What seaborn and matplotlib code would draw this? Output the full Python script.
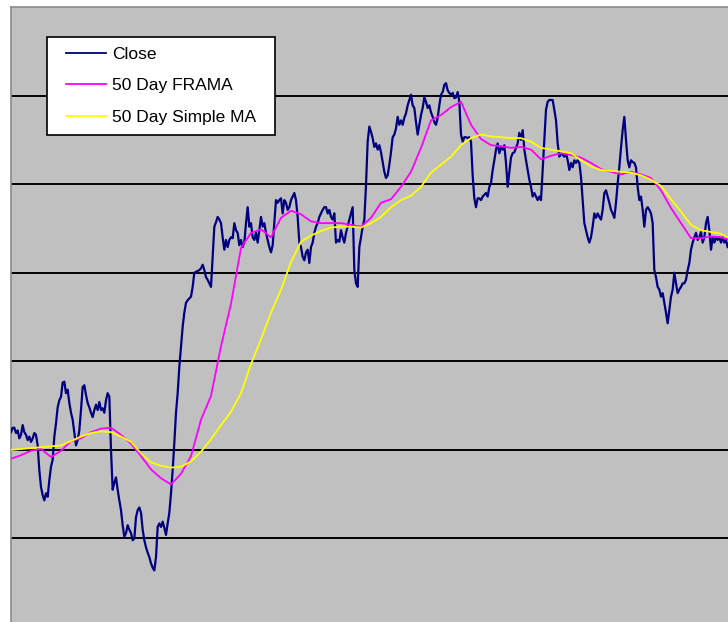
import numpy as np
import pandas as pd
import matplotlib
matplotlib.use("Agg")
import matplotlib.pyplot as plt
from matplotlib.lines import Line2D
from matplotlib.legend_handler import HandlerLine2D
import seaborn as sns

# Daily closing prices (one value per trading day)
close = [
    22.0, 22.5, 22.5, 21.9, 22.2, 21.3, 21.7, 22.8, 22.0, 21.7, 21.1, 21.5, 20.9, 21.3, 21.9, 21.7,
    20.5, 17.7, 15.8, 14.9, 14.3, 15.1, 14.7, 16.6, 18.1, 18.9, 21.5, 23.0, 24.8, 25.6, 26.0, 27.6,
    27.7, 26.4, 26.8, 25.3, 24.2, 23.4, 21.9, 20.5, 21.1, 22.2, 24.5, 27.1, 27.3, 26.2, 25.3, 24.8,
    24.2, 23.7, 24.5, 25.1, 24.5, 25.4, 24.5, 24.7, 24.2, 25.6, 26.4, 26.0, 20.0, 15.5, 16.3, 16.9,
    15.5, 14.3, 13.2, 11.5,
    10.2, 10.6, 11.5, 11.0, 10.6, 9.8, 10.0, 12.4, 13.2, 13.5, 12.9, 11.0, 9.8, 9.0, 8.4, 7.9,
    7.2, 6.7, 6.4, 7.9, 11.3, 11.7, 11.3, 11.9, 11.2, 10.4, 11.7, 12.9, 15.1, 17.7, 20.8, 24.2,
    26.4, 29.4, 31.6, 33.9, 35.5, 36.6, 36.9, 37.1, 37.3, 38.4, 40.0, 40.1, 40.2, 40.3, 40.5, 40.9,
    40.3, 39.5, 39.2, 38.8, 38.4, 41.8, 45.2, 45.7, 46.3, 46.0, 45.6, 44.0, 42.6, 43.7, 42.9, 43.7,
    44.0, 43.9, 45.6, 44.8, 44.5, 43.1, 43.7, 42.9, 43.4,
    45.6, 47.4, 45.2, 45.6, 44.0, 43.7, 44.5, 43.4, 44.8, 46.3, 45.2, 45.6, 44.5, 43.7, 42.9, 42.3,
    43.1, 45.6, 48.2, 47.9, 48.2, 48.4, 46.7, 48.2, 47.9, 47.1, 47.4, 48.2, 48.6, 49.0, 48.2, 46.3,
    43.4, 42.9, 41.8, 41.4, 42.3, 42.6, 41.1, 42.9, 43.4, 44.5, 45.2, 45.6, 46.3, 46.7, 47.1, 47.4,
    47.4, 46.7, 47.1, 46.3, 46.0, 46.7, 43.4, 43.7, 43.5, 44.8, 44.0, 43.4, 44.5, 45.2, 46.0, 46.7,
    47.4, 40.3, 38.8, 38.4, 42.9, 44.0, 45.2, 46.0,
    49.9, 54.8, 56.5, 55.9, 55.2, 54.2, 54.6, 53.9, 54.4, 53.6, 52.5, 51.4, 50.7, 51.0, 52.2, 53.6,
    55.3, 55.6, 56.3, 57.6, 56.7, 57.2, 56.7, 57.5, 58.0, 58.9, 59.5, 60.1, 58.9, 58.6, 57.0, 55.6,
    56.7, 57.8, 58.6, 59.8, 59.3, 58.6, 58.9, 58.1, 57.6, 57.0, 56.7, 57.5, 58.9, 60.1, 60.4, 61.2,
    61.4, 60.6, 60.3, 60.1, 60.3, 59.7, 59.8, 60.4, 59.3, 55.6, 54.8, 55.3, 55.3, 55.2, 55.3, 54.8,
    51.0, 48.4, 47.4, 48.4, 48.4, 48.2, 48.6, 48.8,
    49.0, 48.6, 49.7, 50.1, 51.6, 52.7, 53.9, 54.6, 53.5, 54.1, 53.9, 54.4, 52.4, 49.7, 51.3, 53.0,
    53.5, 53.6, 54.1, 54.6, 55.8, 55.0, 56.1, 53.9, 52.7, 51.6, 50.5, 49.7, 48.6, 49.0, 48.6, 48.2,
    48.6, 48.2, 51.6, 55.0, 58.4, 59.3, 59.5, 59.5, 59.5, 58.4, 57.2, 54.6, 53.1, 53.5, 53.3, 53.1,
    53.5, 52.7, 51.6, 52.4, 51.9, 52.7, 52.4, 52.7, 52.4, 50.8, 48.2, 45.6, 44.8, 44.0, 43.4, 44.0,
    45.2, 46.7, 46.2, 46.7, 46.3, 46.0, 47.1, 49.0,
    49.3, 48.6, 47.9, 47.1, 46.7, 46.2, 47.9, 50.1, 51.9, 54.1, 56.1, 57.6, 55.0, 52.7, 51.9, 52.7,
    52.5, 52.4, 51.9, 49.7, 48.2, 48.6, 47.1, 45.2, 47.1, 47.4, 47.1, 46.7, 45.6, 40.3, 39.5, 38.4,
    38.1, 37.3, 37.7, 36.6, 35.5, 34.3, 35.8, 37.3, 38.1, 40.0, 38.8, 37.7, 38.1, 38.4, 38.8, 38.8,
    39.2, 40.3, 41.1, 42.6, 43.4, 44.0, 44.5, 43.7, 44.0, 44.6, 43.4, 44.0, 45.6, 46.3, 44.8, 42.6,
    44.0, 43.4, 44.0, 43.7, 44.0, 43.4, 44.0, 43.4, 43.7, 42.9,
]
days = list(range(len(close)))

# Moving averages, read every sixth trading day
ma_days = list(range(0, 432, 6)) + [430]
frama_50 = [
    19.0, 19.4, 19.9, 20.1, 19.2, 19.9, 21.0, 21.3, 22.0, 22.4, 22.5, 21.7, 20.7, 19.3, 17.8, 16.8,
    16.1, 17.3, 19.3, 23.4, 26.1, 31.7, 36.5, 42.8, 44.5, 44.9, 44.0, 46.2, 47.0, 46.6, 45.8, 45.6,
    45.6, 45.6, 45.4, 45.2, 46.2, 47.9, 48.3, 49.7, 51.4, 54.1, 57.2, 57.8, 58.7, 59.3, 56.7, 55.1,
    54.4, 54.3, 54.1, 54.2, 53.9, 52.8, 53.2, 53.5, 53.3, 53.0, 52.4, 51.7, 51.4, 51.1, 51.4, 51.1,
    50.7, 49.3, 47.3, 45.6, 43.9, 43.9, 44.1, 44.0, 43.8,
]
sma_50 = [
    20.0, 20.1, 20.2, 20.3, 20.4, 20.5, 21.0, 21.5, 21.9, 22.1, 22.0, 21.5, 20.9, 19.6, 18.6, 18.2,
    18.0, 18.1, 18.7, 19.8, 21.2, 22.8, 24.3, 26.4, 29.7, 32.5, 35.5, 38.1, 41.2, 43.5, 44.2, 44.7,
    45.1, 45.2, 45.2, 45.1, 45.6, 46.3, 47.4, 48.2, 48.7, 49.7, 51.3, 52.2, 53.1, 54.4, 55.2, 55.6,
    55.4, 55.3, 55.2, 55.2, 54.8, 54.1, 53.9, 53.7, 53.5, 52.7, 52.0, 51.6, 51.5, 51.4, 51.3, 51.0,
    50.5, 49.8, 48.3, 46.9, 45.4, 44.8, 44.6, 44.4, 44.0,
]
grid_levels = [10, 20, 30, 40, 50, 60]

W, H = 728, 622
fig = plt.figure(figsize=(W / 100, H / 100), dpi=100, facecolor="white")
ax = fig.add_axes([11 / W, 0, 1 - 11 / W, 1 - 7 / H])
ax.set_facecolor("#C0C0C0")

price = pd.DataFrame({"day": days, "close": close})
ma = pd.DataFrame({"day": ma_days, "frama": frama_50, "sma": sma_50})

sns.lineplot(data=price, x="day", y="close", ax=ax, color="#000080", lw=1.6,
             label="Close", zorder=3)
sns.lineplot(data=ma, x="day", y="frama", ax=ax, color="#FF00FF", lw=1.3,
             label="50 Day FRAMA", zorder=4)
sns.lineplot(data=ma, x="day", y="sma", ax=ax, color="#FFFF00", lw=1.3,
             label="50 Day Simple MA", zorder=5)

ax.set_xlim(0, 430.2)
ax.set_ylim(0.57, 70.0)
ax.set_yticks(grid_levels)
ax.set_xticks([])
ax.grid(axis="y", color="black", lw=1.4)
ax.set_axisbelow(True)
ax.tick_params(length=0, labelleft=False, labelbottom=False)
ax.set_xlabel("")
ax.set_ylabel("")
for side in ("right", "bottom"):
    ax.spines[side].set_visible(False)
for side in ("left", "top"):
    ax.spines[side].set_color("#8C8C8C")
    ax.spines[side].set_linewidth(1.2)

# Legend box: fixed width, placed in the upper left of the plot area
fs = 12.5
leg = ax.legend(
    loc="upper left",
    bbox_to_anchor=(47 / W, 1 - 135 / H, 228 / W, 98 / H),
    bbox_transform=fig.transFigure,
    mode="expand",
    borderaxespad=0,
    prop={"family": "Liberation Sans", "size": fs},
    frameon=True,
    fancybox=False,
    framealpha=1,
    edgecolor="black",
    facecolor="white",
    borderpad=0.57,
    labelspacing=0.93,
    handlelength=2.85,
    handletextpad=0.35,
    handler_map={Line2D: HandlerLine2D(xpad=0.55)},
)
leg.get_frame().set_linewidth(1.2)
for h in leg.get_lines():
    h.set_linewidth(1.3)

fig.savefig("out.png", dpi=100, facecolor="white")
